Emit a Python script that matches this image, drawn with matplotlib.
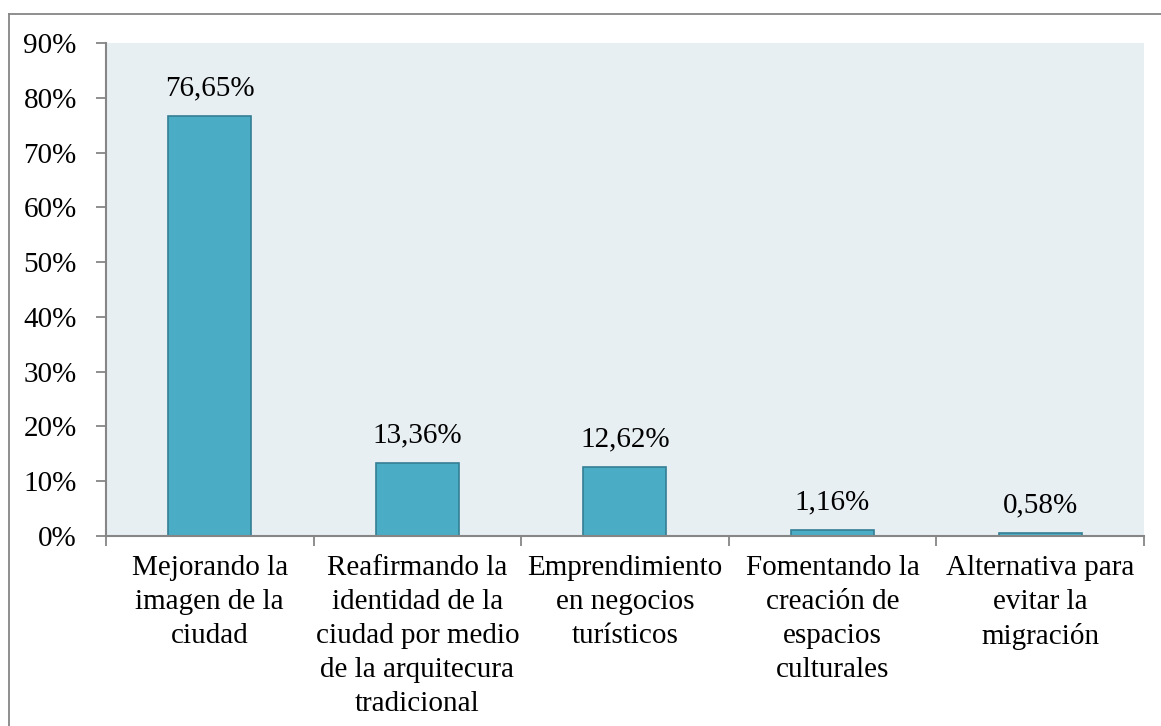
import matplotlib.pyplot as plt
from matplotlib.lines import Line2D

categories = [
    "Mejorando la\nimagen de la\nciudad",
    "Reafirmando la\nidentidad de la\nciudad por medio\nde la arquitecura\ntradicional",
    "Emprendimiento\nen negocios\nturísticos",
    "Fomentando la\ncreación de\nespacios\nculturales",
    "Alternativa para\nevitar la\nmigración",
]
values = [76.65, 13.36, 12.62, 1.16, 0.58]
labels = ["76,65%", "13,36%", "12,62%", "1,16%", "0,58%"]
yticks = [0, 10, 20, 30, 40, 50, 60, 70, 80, 90]

plt.rcParams["font.family"] = ["Liberation Serif", "DejaVu Serif"]

fig = plt.figure(figsize=(11.61, 7.26), dpi=100)
ax = fig.add_axes([0.0913, 0.2617, 0.8940, 0.6791])

# outer chart border: only top and left edges are visible
gray = "#868686"
fig.lines.append(Line2D([9 / 1161, 9 / 1161], [0, 1 - 14 / 726], transform=fig.transFigure,
                        color=gray, linewidth=1.3))
fig.lines.append(Line2D([9 / 1161, 1], [1 - 14 / 726, 1 - 14 / 726], transform=fig.transFigure,
                        color=gray, linewidth=1.3))

ax.set_facecolor("#E8EFF3")
x = range(len(values))
ax.bar(x, values, width=0.40, color="#4BACC6", edgecolor="#357F93", linewidth=1.2, zorder=2)

for xi, v, lab in zip(x, values, labels):
    ax.text(xi, v + 2.6, lab, ha="center", va="bottom", fontsize=21)

ax.set_xlim(-0.5, len(values) - 0.5)
ax.set_ylim(0, 90)
ax.set_yticks(yticks)
ax.set_yticklabels([f"{t}%" for t in yticks], fontsize=21)
ax.set_xticks([i - 0.5 for i in range(len(values) + 1)])
ax.set_xticklabels([])
ax.set_xticks(list(x), minor=True)
ax.set_xticklabels(categories, minor=True, fontsize=21, linespacing=1.39)
ax.tick_params(axis="x", which="minor", length=0, pad=14)
ax.tick_params(axis="x", which="major", length=7, color=gray, width=1.3)
ax.tick_params(axis="y", length=7, color=gray, width=1.3, pad=14)

for s in ["top", "right"]:
    ax.spines[s].set_visible(False)
for s in ["left", "bottom"]:
    ax.spines[s].set_color(gray)
    ax.spines[s].set_linewidth(1.5)

fig.savefig("out.png", dpi=100)
